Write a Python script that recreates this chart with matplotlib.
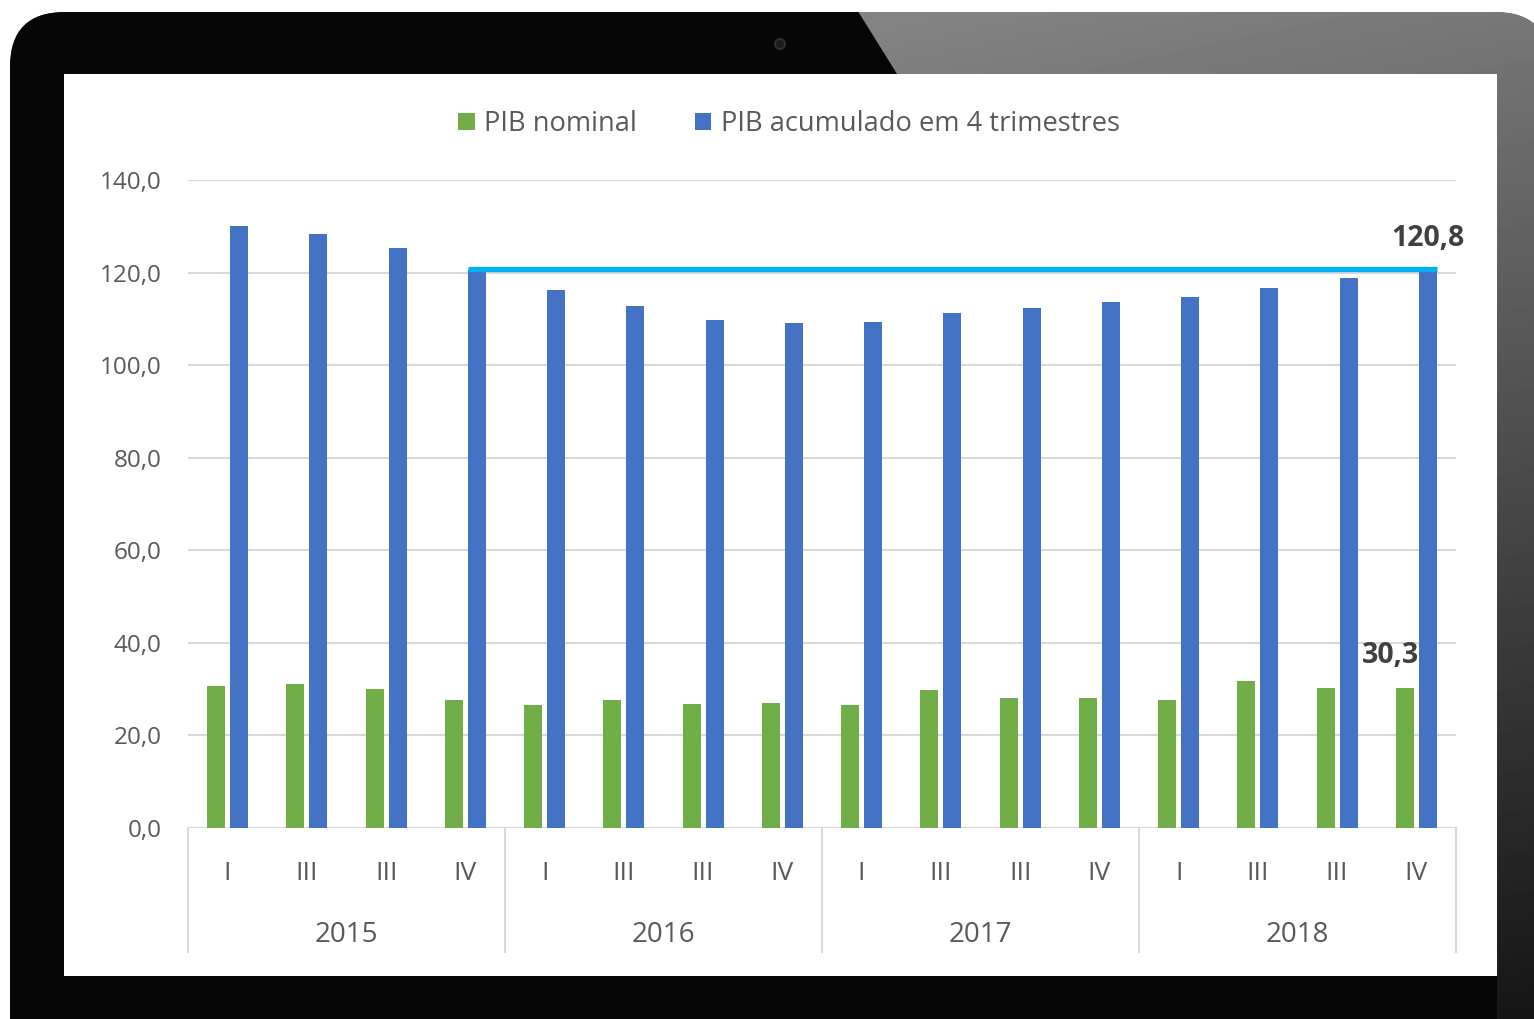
import numpy as np
import matplotlib
matplotlib.use("Agg")
import matplotlib.pyplot as plt
from matplotlib.patches import FancyBboxPatch, Polygon, Rectangle, Circle

plt.rcParams['font.family'] = ['Open Sans', 'DejaVu Sans']

# dados
anos = ["2015", "2016", "2017", "2018"]
trimestres = ["I", "III", "III", "IV"]
pib_nominal = [30.7, 31.1, 30.0, 27.7,
               26.6, 27.7, 26.8, 27.0,
               26.6, 29.8, 28.1, 28.1,
               27.7, 31.8, 30.2, 30.3]
pib_acumulado = [130.0, 128.3, 125.3, 120.6,
                 116.2, 112.8, 109.7, 109.1,
                 109.3, 111.3, 112.3, 113.6,
                 114.7, 116.7, 118.8, 120.8]

verde = "#70AD47"
azul = "#4472C4"
ciano = "#00B0F0"
cinza_txt = "#595959"
grade = "#D9D9D9"

W, H = 1534, 1019
fig = plt.figure(figsize=(W / 100, H / 100), dpi=100)
fig.patch.set_facecolor("white")

# moldura do notebook
bg = fig.add_axes([0, 0, 1, 1])
bg.set_xlim(0, W)
bg.set_ylim(H, 0)
bg.axis("off")
corpo = FancyBboxPatch((10, 12), 1540, 1200, boxstyle="round,pad=0,rounding_size=55",
                       facecolor="#5a5a5a", edgecolor="none", zorder=1)
bg.add_patch(corpo)
yy, xx = np.mgrid[0:H:4, 840:W:4]
tom = 0.52 - 0.00038 * (yy - 12) - 0.00008 * (xx - 858)
tom = np.clip(tom, 0.06, 0.6)
img = bg.imshow(tom, extent=(840, W, H, 0), cmap="gray", vmin=0, vmax=1,
                interpolation="bilinear", aspect="auto", zorder=2)
img.set_clip_path(corpo)
preto = Polygon([(0, 0), (851, 0), (897, 74), (1497, 74), (1497, H), (0, H)],
                closed=True, facecolor="#060606", edgecolor="none", zorder=3)
bg.add_patch(preto)
preto.set_clip_path(corpo)
bg.add_patch(Circle((780, 44), 5, facecolor="#1c1c1c", edgecolor="#2e2e2e", lw=1.5, zorder=4))
bg.add_patch(Rectangle((64, 74), 1433, 902, facecolor="white", edgecolor="none", zorder=5))

# area do grafico
x0, x1, ytop, ybase = 188, 1456, 180, 828
ax = fig.add_axes([x0 / W, 1 - ybase / H, (x1 - x0) / W, (ybase - ytop) / H])
ax.set_zorder(5)
ax.patch.set_alpha(0)

n = len(pib_nominal)
x = np.arange(n)
larg = 0.23
desl = 0.145
ax.bar(x - desl, pib_nominal, larg, color=verde, label="PIB nominal", zorder=3)
ax.bar(x + desl, pib_acumulado, larg, color=azul, label="PIB acumulado em 4 trimestres", zorder=3)

ax.hlines(pib_acumulado[-1], x[3] + desl - larg / 2, x[-1] + desl + larg / 2,
          color=ciano, lw=3.8, zorder=4)

ax.set_xlim(-0.5, n - 0.5)
ax.set_ylim(0, 140)
ax.set_yticks(np.arange(0, 141, 20))
ax.set_yticklabels([f"{v:.1f}".replace(".", ",") for v in np.arange(0, 141, 20)])
ax.tick_params(axis="y", length=0, pad=19, labelsize=17.5, labelcolor=cinza_txt)
ax.set_xticks([])
ax.grid(axis="y", color=grade, lw=1.5, zorder=0)
for s in ax.spines.values():
    s.set_visible(False)

# eixo de categorias em dois niveis
tr = ax.get_xaxis_transform()
fy = lambda py: -(py - ybase) / (ybase - ytop)
for i in x:
    ax.text(i, fy(873), trimestres[i % 4], transform=tr, ha="center", va="center",
            fontsize=19, color=cinza_txt)
for j, ano in enumerate(anos):
    ax.text(j * 4 + 1.5, fy(935), ano, transform=tr, ha="center", va="center",
            fontsize=20, color=cinza_txt)
for k in range(len(anos) + 1):
    ax.plot([k * 4 - 0.5] * 2, [0, fy(952)], transform=tr, color=grade, lw=1.5,
            clip_on=False, zorder=1)

# rotulos de dados
ax.annotate(f"{pib_acumulado[-1]:.1f}".replace(".", ","), (x[-1] + desl, pib_acumulado[-1]),
            xytext=(0, 30), textcoords="offset pixels", ha="center", va="center",
            fontsize=20.5, fontweight="bold", color="#404040")
ax.annotate(f"{pib_nominal[-1]:.1f}".replace(".", ","), (x[-1] - desl, pib_nominal[-1]),
            xytext=(-14, 32), textcoords="offset pixels", ha="center", va="center",
            fontsize=20.5, fontweight="bold", color="#404040")

ax.legend(loc="center", bbox_to_anchor=((789 - x0) / (x1 - x0), (ybase - 124) / (ybase - ytop)),
          ncol=2, frameon=False, fontsize=19.6, labelcolor=cinza_txt,
          handlelength=0.62, handleheight=0.62, handletextpad=0.35, columnspacing=2.1)

fig.savefig("out.png", dpi=100)
